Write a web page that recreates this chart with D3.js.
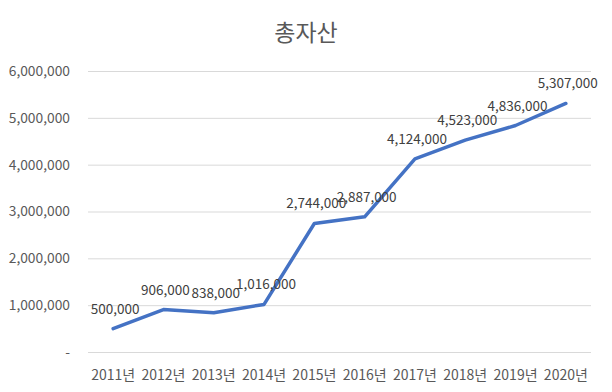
<!DOCTYPE html>
<html><head><meta charset="utf-8">
<script src="https://cdn.jsdelivr.net/npm/d3@7"></script>
<style>body{margin:0;background:#fff}svg{display:block}</style>
</head><body>
<svg id="c" width="612" height="392"></svg>
<script>
const title = "총자산";
const categories = ["2011년","2012년","2013년","2014년","2015년","2016년","2017년","2018년","2019년","2020년"];
const values = [500000, 906000, 838000, 1016000, 2744000, 2887000, 4124000, 4523000, 4836000, 5307000];
const yTicks = [0, 1000000, 2000000, 3000000, 4000000, 5000000, 6000000];

const svg = d3.select("#c");
const font = "'Malgun Gothic','Noto Sans CJK KR',Calibri,'Liberation Sans',sans-serif";
const textColor = "#595959";
const L = 88, R = 591, T = 71, B = 352;

const x = d3.scaleBand().domain(categories).range([L, R]);
const y = d3.scaleLinear().domain([0, 6000000]).range([B, T]);
const fmt = v => v === 0 ? "-" : d3.format(",")(v);

svg.append("text").attr("x", 306).attr("y", 41).attr("text-anchor", "middle")
  .attr("font-family", font).attr("font-size", 23).attr("fill", textColor).text(title);

const yAxis = d3.axisLeft(y).tickValues(yTicks).tickFormat(fmt).tickSize(-(R - L)).tickPadding(18);
const gy = svg.append("g").attr("transform", `translate(${L},0)`).call(yAxis);
gy.select(".domain").remove();
gy.selectAll(".tick line").attr("stroke", "#d9d9d9").attr("stroke-width", 1);
gy.selectAll(".tick text").attr("font-family", font).attr("font-size", 13.8).attr("fill", textColor);

const xAxis = d3.axisBottom(x).tickSize(0).tickPadding(18);
const gx = svg.append("g").attr("transform", `translate(0,${B})`).call(xAxis);
gx.select(".domain").remove();
gx.selectAll(".tick text").attr("font-family", font).attr("font-size", 14).attr("fill", textColor);

const cx = d => x(d) + x.bandwidth() / 2;
const line = d3.line().x((d, i) => cx(categories[i])).y(d => y(d));
svg.append("path").datum(values).attr("d", line).attr("fill", "none")
  .attr("stroke", "#4472C4").attr("stroke-width", 3.5).attr("stroke-linejoin", "round").attr("stroke-linecap", "round");

svg.append("g").selectAll("text").data(values).join("text")
  .attr("x", (d, i) => cx(categories[i]) + 2)
  .attr("y", d => y(d) - 15)
  .attr("text-anchor", "middle")
  .attr("font-family", font).attr("font-size", 13.5).attr("fill", "#404040")
  .text(d => d3.format(",")(d));
</script>
</body></html>
